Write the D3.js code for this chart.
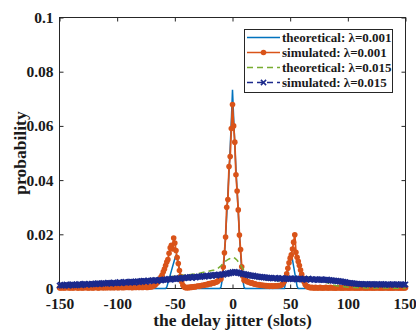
<!DOCTYPE html>
<html>
<head>
<meta charset="utf-8">
<script src="https://cdn.jsdelivr.net/npm/d3@7"></script>
<style>
  body { margin: 0; background: #fff; }
  svg { display: block; }
  text { font-family: "Liberation Serif", "Times New Roman", serif; font-weight: bold; fill: #1a1a1a; }
</style>
</head>
<body>
<svg id="chart" width="416" height="330"></svg>
<script>
// delay jitter in slots, one sample per slot
var slots = d3.range(-150, 151);

var xTicks = [-150, -100, -50, 0, 50, 100, 150];
var xTickLabels = ["-150", "-100", "-50", "0", "50", "100", "150"];
var yTicks = [0, 0.02, 0.04, 0.06, 0.08, 0.1];
var yTickLabels = ["0", "0.02", "0.04", "0.06", "0.08", "0.1"];

// simulated, lambda = 0.001 (one value per slot, -150 .. 150)
var sim001 = [
  0.0003,0.0002,0.0004,0.0003,0.0002,0.0004,0.0003,0.0005,0.0003,0.0002,
  0.0004,0.0003,0.0002,0.0004,0.0005,0.0003,0.0002,0.0003,0.0004,0.0003,
  0.0002,0.0004,0.0003,0.0005,0.0003,0.0002,0.0004,0.0003,0.0004,0.0002,
  0.0003,0.0005,0.0004,0.0003,0.0002,0.0004,0.0005,0.0003,0.0004,0.0003,
  0.0005,0.0003,0.0004,0.0006,0.0003,0.0004,0.0005,0.0003,0.0004,0.0006,
  0.0004,0.0003,0.0005,0.0004,0.0006,0.0003,0.0005,0.0004,0.0006,0.0005,
  0.0004,0.0006,0.0005,0.0003,0.0005,0.0006,0.0004,0.0005,0.0007,0.0004,
  0.0006,0.0005,0.0004,0.0006,0.0007,0.0005,0.0004,0.0006,0.0005,0.0007,
  0.0006,0.0008,0.0010,0.0014,0.0018,0.0022,0.0028,0.0035,0.0042,0.0050,
  0.0062,0.0072,0.0085,0.0098,0.0107,0.0130,0.0150,0.0159,0.0146,0.0186,
  0.0168,0.0140,0.0114,0.0092,0.0066,0.0045,0.0025,0.0012,0.0006,0.0004,
  0.0003,0.0004,0.0003,0.0005,0.0004,0.0006,0.0005,0.0007,0.0006,0.0008,
  0.0009,0.0008,0.0010,0.0011,0.0012,0.0011,0.0014,0.0015,0.0014,0.0017,
  0.0018,0.0017,0.0020,0.0021,0.0020,0.0023,0.0024,0.0026,0.0030,0.0036,
  0.0035,0.0050,0.0079,0.0132,0.0190,0.0300,0.0328,0.0450,0.0487,0.0590,
  0.0679,0.0600,0.0540,0.0420,0.0360,0.0290,0.0197,0.0144,0.0080,0.0045,
  0.0030,0.0032,0.0028,0.0025,0.0024,0.0022,0.0020,0.0021,0.0018,0.0017,
  0.0016,0.0015,0.0014,0.0015,0.0012,0.0013,0.0011,0.0012,0.0010,0.0011,
  0.0009,0.0010,0.0008,0.0009,0.0010,0.0008,0.0009,0.0010,0.0009,0.0010,
  0.0011,0.0010,0.0012,0.0015,0.0020,0.0027,0.0038,0.0054,0.0075,0.0095,
  0.0112,0.0124,0.0146,0.0171,0.0198,0.0134,0.0115,0.0100,0.0085,0.0068,
  0.0052,0.0038,0.0025,0.0015,0.0010,0.0007,0.0005,0.0004,0.0003,0.0004,
  0.0003,0.0002,0.0004,0.0003,0.0002,0.0003,0.0004,0.0002,0.0003,0.0002,
  0.0003,0.0004,0.0002,0.0003,0.0002,0.0004,0.0003,0.0002,0.0003,0.0002,
  0.0002,0.0003,0.0004,0.0002,0.0003,0.0002,0.0003,0.0002,0.0004,0.0003,
  0.0002,0.0003,0.0002,0.0003,0.0004,0.0002,0.0003,0.0002,0.0003,0.0002,
  0.0003,0.0002,0.0004,0.0003,0.0002,0.0003,0.0002,0.0003,0.0002,0.0004,
  0.0002,0.0003,0.0002,0.0003,0.0002,0.0004,0.0003,0.0002,0.0003,0.0002,
  0.0003,0.0002,0.0003,0.0004,0.0002,0.0003,0.0002,0.0003,0.0002,0.0003,
  0.0002,0.0003,0.0004,0.0002,0.0003,0.0002,0.0003,0.0002,0.0003,0.0002,0.0003
];

// simulated, lambda = 0.015 (one value per slot, -150 .. 150)
var sim015 = [
  0.0011,0.0014,0.0010,0.0012,0.0013,0.0011,0.0015,0.0012,0.0010,0.0014,
  0.0013,0.0016,0.0012,0.0014,0.0011,0.0015,0.0013,0.0017,0.0014,0.0012,
  0.0016,0.0014,0.0018,0.0015,0.0013,0.0017,0.0016,0.0014,0.0018,0.0015,
  0.0017,0.0019,0.0016,0.0020,0.0018,0.0015,0.0019,0.0017,0.0021,0.0018,
  0.0020,0.0018,0.0022,0.0019,0.0021,0.0017,0.0020,0.0023,0.0019,0.0021,
  0.0022,0.0020,0.0024,0.0021,0.0019,0.0023,0.0022,0.0025,0.0021,0.0023,
  0.0024,0.0022,0.0026,0.0023,0.0025,0.0021,0.0026,0.0024,0.0027,0.0023,
  0.0026,0.0028,0.0025,0.0029,0.0027,0.0024,0.0028,0.0030,0.0026,0.0029,
  0.0029,0.0031,0.0028,0.0032,0.0030,0.0027,0.0031,0.0033,0.0029,0.0032,
  0.0032,0.0034,0.0031,0.0035,0.0033,0.0036,0.0032,0.0034,0.0037,0.0035,
  0.0036,0.0034,0.0038,0.0036,0.0039,0.0035,0.0038,0.0040,0.0037,0.0039,
  0.0040,0.0042,0.0039,0.0043,0.0041,0.0038,0.0042,0.0044,0.0040,0.0043,
  0.0043,0.0045,0.0042,0.0046,0.0044,0.0047,0.0043,0.0046,0.0048,0.0045,
  0.0047,0.0049,0.0046,0.0050,0.0048,0.0051,0.0047,0.0050,0.0052,0.0049,
  0.0051,0.0053,0.0050,0.0054,0.0056,0.0053,0.0057,0.0055,0.0059,0.0057,
  0.0061,0.0058,0.0062,0.0059,0.0060,0.0057,0.0058,0.0055,0.0056,0.0053,
  0.0054,0.0051,0.0052,0.0049,0.0050,0.0047,0.0049,0.0046,0.0048,0.0045,
  0.0046,0.0044,0.0045,0.0042,0.0044,0.0041,0.0043,0.0040,0.0042,0.0039,
  0.0041,0.0038,0.0040,0.0037,0.0039,0.0036,0.0038,0.0040,0.0037,0.0036,
  0.0038,0.0035,0.0037,0.0039,0.0036,0.0034,0.0037,0.0035,0.0038,0.0036,
  0.0035,0.0037,0.0034,0.0036,0.0038,0.0035,0.0033,0.0036,0.0034,0.0037,
  0.0035,0.0033,0.0036,0.0034,0.0032,0.0035,0.0037,0.0034,0.0033,0.0035,
  0.0034,0.0032,0.0035,0.0033,0.0031,0.0034,0.0032,0.0035,0.0033,0.0031,
  0.0033,0.0031,0.0034,0.0030,0.0032,0.0029,0.0031,0.0028,0.0030,0.0027,
  0.0029,0.0026,0.0028,0.0025,0.0027,0.0024,0.0025,0.0023,0.0024,0.0021,
  0.0022,0.0020,0.0021,0.0019,0.0020,0.0018,0.0019,0.0017,0.0018,0.0016,
  0.0017,0.0015,0.0017,0.0016,0.0014,0.0017,0.0015,0.0016,0.0014,0.0016,
  0.0015,0.0017,0.0014,0.0016,0.0015,0.0013,0.0016,0.0014,0.0015,0.0017,
  0.0014,0.0016,0.0013,0.0015,0.0014,0.0016,0.0013,0.0015,0.0014,0.0016,
  0.0015,0.0013,0.0016,0.0014,0.0015,0.0013,0.0016,0.0014,0.0015,0.0013,0.0015
];

// theoretical, lambda = 0.001 (breakpoints, zero elsewhere)
var theo001Slots = [-150, -58, -57, -56, -55, -54, -53, -52, -51, -50, -49, -48, -47, -46, -45, -44, -43, -42,
  -11, -10, -9, -8, -7, -6, -5, -4, -3, -2, -1, 0, 1, 2, 3, 4, 5, 6, 7, 8, 9, 10, 11,
  45, 46, 47, 48, 49, 50, 51, 52, 53, 54, 55, 56, 57, 150];
var theo001 = [0, 0, 0.0005, 0.0020, 0.0035, 0.0050, 0.0065, 0.0080, 0.0095, 0.0110, 0.0121, 0.0112, 0.0092, 0.0070, 0.0048, 0.0026, 0.0005, 0,
  0, 0.0005, 0.0030, 0.0065, 0.0125, 0.0190, 0.0270, 0.0350, 0.0430, 0.0520, 0.0620, 0.0733, 0.0630, 0.0530, 0.0440, 0.0360, 0.0280, 0.0200, 0.0130, 0.0070, 0.0030, 0.0005, 0,
  0, 0.0020, 0.0043, 0.0066, 0.0089, 0.0112, 0.0132, 0.0107, 0.0082, 0.0057, 0.0032, 0.0008, 0, 0];

// theoretical, lambda = 0.015 (breakpoints)
var theo015Slots = [-150, -130, -110, -90, -75, -60, -50, -40, -30, -22, -16, -13, -10, -7, -5, -3, -1, 0, 1, 2, 4, 6, 8, 10, 12, 14, 17, 20, 25, 30, 40, 50, 55, 60, 65, 70, 75, 80, 85, 90, 100, 115, 150];
var theo015 = [0.0006, 0.0010, 0.0015, 0.0021, 0.0028, 0.0037, 0.0046, 0.0050, 0.0055, 0.0063, 0.0068, 0.0073, 0.0084, 0.0098, 0.0104, 0.0109, 0.0113, 0.0115, 0.0115, 0.0112, 0.0104, 0.0093, 0.0080, 0.0066, 0.0056, 0.0049, 0.0043, 0.0039, 0.0034, 0.0031, 0.0029, 0.0031, 0.0035, 0.0040, 0.0042, 0.0040, 0.0034, 0.0025, 0.0016, 0.0010, 0.0005, 0.0002, 0.0001];

var legendLabels = ["theoretical: \u03bb=0.001", "simulated: \u03bb=0.001", "theoretical: \u03bb=0.015", "simulated: \u03bb=0.015"];

var cBlue = "#0072bd", cOrange = "#d95319", cGreen = "#77ac30", cNavy = "#1c2a8c", cAxis = "#262626";

var svg = d3.select("#chart");
var plotL = 59.5, plotR = 405.5, plotT = 17.5, plotB = 288.5;

var x = d3.scaleLinear().domain([-150, 150]).range([plotL, plotR]);
var y = d3.scaleLinear().domain([0, 0.1]).range([plotB, plotT]);

// axes (drawn under the data, like matlab)
var gx = svg.append("g")
  .attr("transform", "translate(0," + plotB + ")")
  .call(d3.axisBottom(x).tickValues(xTicks).tickFormat(function (d, i) { return xTickLabels[i]; })
    .tickSizeInner(-4).tickSizeOuter(0).tickPadding(9));
svg.append("g")
  .attr("transform", "translate(" + plotL + ",0)")
  .call(d3.axisLeft(y).tickValues(yTicks).tickFormat(function (d, i) { return yTickLabels[i]; })
    .tickSizeInner(-4).tickSizeOuter(0).tickPadding(6));
svg.append("g")
  .attr("transform", "translate(0," + plotT + ")")
  .call(d3.axisTop(x).tickValues(xTicks).tickFormat("").tickSizeInner(-4).tickSizeOuter(0));
svg.append("g")
  .attr("transform", "translate(" + plotR + ",0)")
  .call(d3.axisRight(y).tickValues(yTicks).tickFormat("").tickSizeInner(-4).tickSizeOuter(0));

svg.selectAll(".domain").remove();
svg.selectAll(".tick line").attr("stroke", cAxis);
svg.selectAll(".tick text")
  .attr("font-family", "Liberation Serif, serif")
  .attr("font-size", 15.5)
  .attr("font-weight", "bold")
  .attr("fill", "#1a1a1a");

// keep the last x label inside the picture
gx.selectAll(".tick text").filter(function (d) { return d === 150; })
  .attr("text-anchor", "end").attr("dx", "0.7em");

svg.append("rect")
  .attr("x", plotL).attr("y", plotT)
  .attr("width", plotR - plotL).attr("height", plotB - plotT)
  .attr("fill", "none").attr("stroke", cAxis).attr("stroke-width", 1);

svg.append("text")
  .attr("x", (plotL + plotR) / 2).attr("y", 326)
  .attr("text-anchor", "middle").attr("font-size", 17.5)
  .text("the delay jitter (slots)");
svg.append("text")
  .attr("transform", "translate(26," + (plotT + plotB) / 2 + ") rotate(-90)")
  .attr("text-anchor", "middle").attr("font-size", 17.5)
  .text("probability");

var line = d3.line()
  .x(function (d) { return x(d[0]); })
  .y(function (d) { return y(d[1]); });

function pairs(xs, ys) { return xs.map(function (s, i) { return [s, ys[i]]; }); }

var cross = "M-2.6,-2.6L2.6,2.6M-2.6,2.6L2.6,-2.6";

// theoretical 0.001
svg.append("path")
  .datum(pairs(theo001Slots, theo001))
  .attr("d", line).attr("fill", "none")
  .attr("stroke", cBlue).attr("stroke-width", 1.5);

// simulated 0.001
var s1 = pairs(slots, sim001);
svg.append("path")
  .datum(s1)
  .attr("d", line).attr("fill", "none")
  .attr("stroke", cOrange).attr("stroke-width", 1.8);
svg.append("g").selectAll("circle")
  .data(s1).enter().append("circle")
  .attr("cx", function (d) { return x(d[0]); })
  .attr("cy", function (d) { return y(d[1]); })
  .attr("r", 2.8)
  .attr("fill", cOrange);

// theoretical 0.015
svg.append("path")
  .datum(pairs(theo015Slots, theo015))
  .attr("d", line).attr("fill", "none")
  .attr("stroke", cGreen).attr("stroke-width", 1.5)
  .attr("stroke-dasharray", "6,4");

// simulated 0.015
var s2 = pairs(slots, sim015);
svg.append("path")
  .datum(s2)
  .attr("d", line).attr("fill", "none")
  .attr("stroke", cNavy).attr("stroke-width", 1.5)
  .attr("stroke-dasharray", "6,4");
svg.append("g").selectAll("path")
  .data(s2).enter().append("path")
  .attr("transform", function (d) { return "translate(" + x(d[0]) + "," + y(d[1]) + ")"; })
  .attr("d", cross)
  .attr("fill", "none")
  .attr("stroke", cNavy).attr("stroke-width", 1.5);

// legend
var legend = svg.append("g");
legend.append("rect")
  .attr("x", 244.5).attr("y", 29.5)
  .attr("width", 148).attr("height", 63)
  .attr("fill", "#fff").attr("stroke", cAxis).attr("stroke-width", 1);

var items = legend.selectAll("g.item")
  .data(legendLabels)
  .enter().append("g")
  .attr("class", "item")
  .attr("transform", function (d, i) { return "translate(0," + (37.5 + i * 15) + ")"; });

var itemColor = [cBlue, cOrange, cGreen, cNavy];
var itemDash = [null, null, "6,4", "6,4"];

items.append("line")
  .attr("x1", 247).attr("x2", 280)
  .attr("stroke", function (d, i) { return itemColor[i]; })
  .attr("stroke-width", 1.5)
  .attr("stroke-dasharray", function (d, i) { return itemDash[i]; });

items.filter(function (d, i) { return i === 1; })
  .append("circle").attr("cx", 263.5).attr("r", 2.8).attr("fill", cOrange);
items.filter(function (d, i) { return i === 3; })
  .append("path").attr("transform", "translate(263.5,0)")
  .attr("d", cross).attr("fill", "none").attr("stroke", cNavy).attr("stroke-width", 1.5);

items.append("text")
  .attr("x", 282).attr("dy", "0.35em")
  .attr("font-size", 13)
  .text(function (d) { return d; });
</script>
</body>
</html>
